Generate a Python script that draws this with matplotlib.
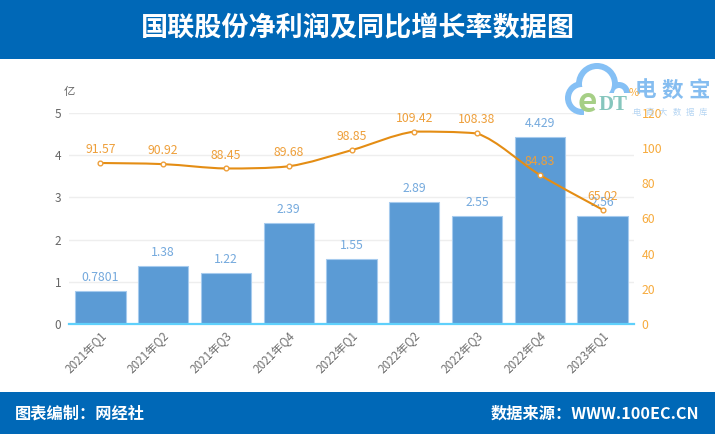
from matplotlib import pyplot as plt
from matplotlib.patches import Ellipse, PathPatch, Rectangle
from matplotlib.path import Path
import numpy as np

plt.rcParams['font.family'] = ['Noto Sans CJK SC', 'DejaVu Sans']

quarters = ['2021年Q1', '2021年Q2', '2021年Q3', '2021年Q4', '2022年Q1',
            '2022年Q2', '2022年Q3', '2022年Q4', '2023年Q1']
profit = [0.7801, 1.38, 1.22, 2.39, 1.55, 2.89, 2.55, 4.429, 2.56]
profit_labels = ['0.7801', '1.38', '1.22', '2.39', '1.55', '2.89', '2.55', '4.429', '2.56']
growth = [91.57, 90.92, 88.45, 89.68, 98.85, 109.42, 108.38, 84.83, 65.02]
growth_labels = ['91.57', '90.92', '88.45', '89.68', '98.85', '109.42', '108.38', '84.83', '65.02']

W, H = 715, 434
BLUE = '#0068b7'
BAR = '#5b9bd5'
BAR_TXT = '#74a9dd'
LINE = '#e48d14'
LINE_TXT = '#ee9f3a'
RIGHT_TXT = '#f7ab3d'

fig = plt.figure(figsize=(W / 100, H / 100), dpi=100)

# header / footer bands
bg = fig.add_axes([0, 0, 1, 1])
bg.set_xlim(0, W)
bg.set_ylim(H, 0)
bg.axis('off')
bg.add_patch(Rectangle((0, 0), W, 59, color=BLUE, lw=0))
bg.add_patch(Rectangle((0, 392), W, 42, color=BLUE, lw=0))
bg.text(357.5, 28, '国联股份净利润及同比增长率数据图', color='white', fontsize=19.5,
        fontweight='bold', ha='center', va='center')
bg.text(15, 414, '图表编制：网经社', color='white', fontsize=11.7, fontweight='bold', va='center')
bg.text(699, 414, '数据来源：WWW.100EC.CN', color='white', fontsize=11.7,
        fontweight='bold', ha='right', va='center')

# main axes, pixel box 69..634 x 113..324
ax = fig.add_axes([69 / W, 1 - 324 / H, 565 / W, 211 / H])
ax.patch.set_alpha(0)
x = np.arange(len(quarters))
ax.bar(x, profit, width=0.8, color=BAR, edgecolor='#a6cbee', linewidth=0.8, zorder=2)
ax.set_xlim(-0.5, 8.5)
ax.set_ylim(0, 5)
ax.set_yticks(range(6))
ax.set_xticks(x)
ax.set_xticklabels(quarters, rotation=45, ha='right', rotation_mode='anchor')
ax.tick_params(axis='x', length=0, pad=4, labelsize=8.4, labelcolor='#707070')
ax.tick_params(axis='y', length=0, pad=5.5, labelsize=8.5, labelcolor='#666666')
ax.grid(axis='y', color='#eeeeee', lw=1, zorder=0)
for s in ['top', 'left', 'right']:
    ax.spines[s].set_visible(False)
ax.spines['bottom'].set_color('#5fd0fb')
ax.spines['bottom'].set_linewidth(1.6)
ax.spines['bottom'].set_zorder(5)
for i, lab in enumerate(profit_labels):
    ax.annotate(lab, (x[i], profit[i]), xytext=(0, 5), textcoords='offset points',
                ha='center', va='bottom', color=BAR_TXT, fontsize=8.8, zorder=6)
bg.text(69, 92, '亿', color='#666666', fontsize=8.2, ha='center', va='center')

# growth rate on the right axis
ax2 = ax.twinx()
ax2.set_ylim(0, 120)
ax2.set_yticks(range(0, 121, 20))
ax2.tick_params(axis='y', length=0, pad=5.5, labelsize=8.8, labelcolor=RIGHT_TXT)
for s in ax2.spines.values():
    s.set_visible(False)

# smooth curve through the points, control points kept inside each segment's range
verts = [(x[0], growth[0])]
codes = [Path.MOVETO]
for i in range(len(x) - 1):
    prev_i = max(i - 1, 0)
    next_i = min(i + 2, len(x) - 1)
    lo, hi = sorted((growth[i], growth[i + 1]))
    c1 = (x[i] + (x[i + 1] - x[prev_i]) / 6,
          np.clip(growth[i] + (growth[i + 1] - growth[prev_i]) / 6, lo, hi))
    c2 = (x[i + 1] - (x[next_i] - x[i]) / 6,
          np.clip(growth[i + 1] - (growth[next_i] - growth[i]) / 6, lo, hi))
    verts += [c1, c2, (x[i + 1], growth[i + 1])]
    codes += [Path.CURVE4] * 3
ax2.add_patch(PathPatch(Path(verts, codes), fc='none', ec=LINE, lw=1.5, zorder=3))
ax2.plot(x, growth, ls='none', marker='o', ms=3.4, mfc='white', mec=LINE_TXT, mew=1, zorder=4)
for i, lab in enumerate(growth_labels):
    ax2.annotate(lab, (x[i], growth[i]), xytext=(0, 5), textcoords='offset points',
                 ha='center', va='bottom', color=LINE_TXT, fontsize=8.8, zorder=6)

# watermark logo
top = fig.add_axes([0, 0, 1, 1])
top.set_xlim(0, W)
top.set_ylim(H, 0)
top.axis('off')
top.patch.set_alpha(0)
cloud = '#85c0f5'
for cx, cy, r in [(582, 98, 17), (597, 84, 21), (619, 93, 11)]:
    top.add_patch(Ellipse((cx, cy), 2 * r, 2 * r, color=cloud, lw=0, zorder=1))
for cx, cy, r in [(582, 98, 11), (597, 84, 15), (619, 93, 5)]:
    top.add_patch(Ellipse((cx, cy), 2 * r, 2 * r, color='white', lw=0, zorder=2))
top.add_patch(Rectangle((584, 93), 48, 24, color='white', lw=0, zorder=2))
top.text(587, 103, 'e', color='#a6cf86', fontsize=24, fontweight='bold', ha='center', va='center', zorder=3)
top.text(613, 105, 'DT', color='#86c6bd', fontsize=15, fontweight='bold', family='Liberation Serif',
         ha='center', va='center', zorder=3)
for cx, ch in zip([645, 672, 699], '电数宝'):
    top.text(cx, 90, ch, color='#85bdf0', fontsize=15.5, fontweight='bold', ha='center', va='center', zorder=3)
for cx, ch in zip([637, 650, 663, 677, 690, 703], '电商大数据库'):
    top.text(cx, 112, ch, color='#b5d5f3', fontsize=6, ha='center', va='center', zorder=3)
top.text(634, 93, '%', color=RIGHT_TXT, fontsize=8, ha='center', va='center', zorder=4)

fig.savefig('out.png', dpi=100)
